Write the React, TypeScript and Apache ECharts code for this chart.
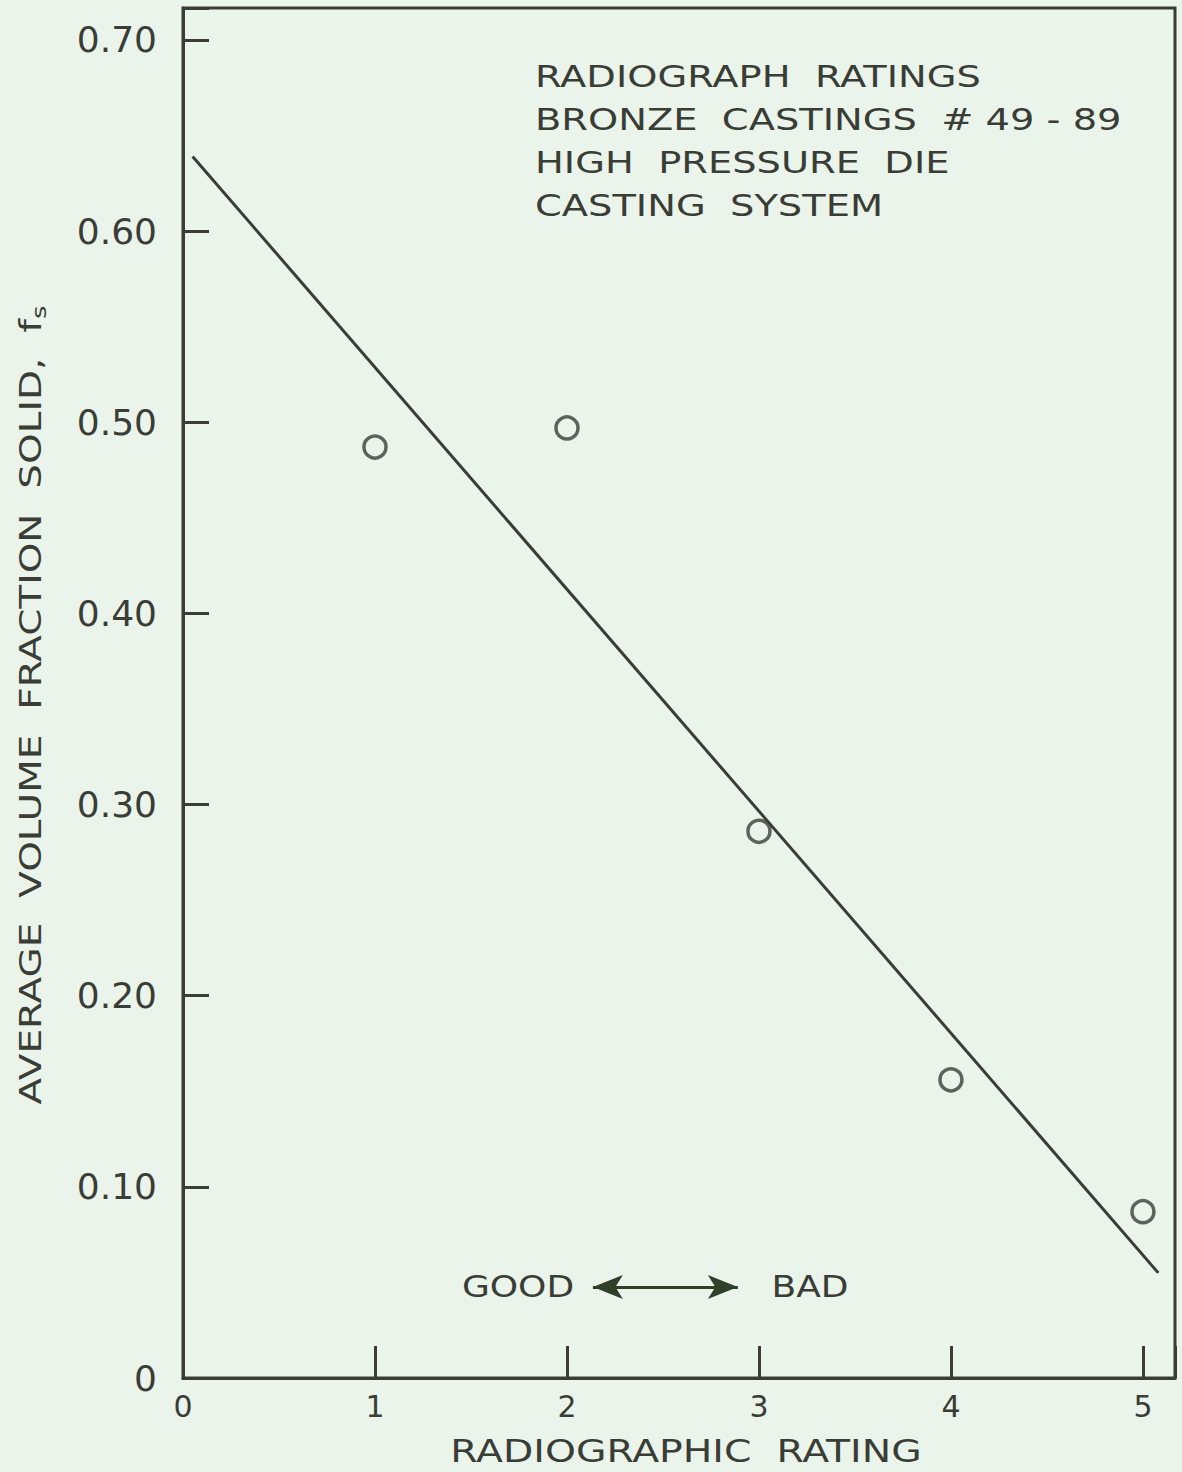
import React, { useEffect, useRef } from "react";
import * as echarts from "echarts";

const ratings = [1, 2, 3, 4, 5];
const fractionSolid = [0.487, 0.497, 0.286, 0.156, 0.087];
const fitLine = [
  [0.05, 0.639],
  [5.08, 0.055],
];
const titleLines = [
  "RADIOGRAPH  RATINGS",
  "BRONZE  CASTINGS  # 49 - 89",
  "HIGH  PRESSURE  DIE",
  "CASTING  SYSTEM",
];
const xName = "RADIOGRAPHIC  RATING";
const yName = "AVERAGE  VOLUME  FRACTION  SOLID,  f";
const arrowFrom = [2.135, 0.0476];
const arrowTo = [2.89, 0.0476];

const INK = "#393d36";
const BG = "#ebf4ea";
const FONT = "DejaVu Sans";

export default function App() {
  const ref = useRef<HTMLDivElement>(null);
  useEffect(() => {
    document.body.style.margin = "0";
    document.body.style.background = BG;
    const chart = echarts.init(ref.current!, null, { renderer: "svg" });
    chart.setOption({
      animation: false,
      backgroundColor: BG,
      grid: {
        left: 183,
        top: 8,
        right: 7,
        bottom: 94,
        show: true,
        borderColor: INK,
        borderWidth: 3,
        backgroundColor: "transparent",
      },
      xAxis: {
        type: "value",
        min: 0,
        max: 5.167,
        interval: 1,
        splitLine: { show: false },
        axisLine: { lineStyle: { color: INK, width: 3 } },
        axisTick: { inside: true, length: 32, lineStyle: { color: INK, width: 3 } },
        axisLabel: {
          color: INK,
          fontFamily: FONT,
          fontSize: 30,
          margin: 13,
          formatter: (v: number) => (Math.abs(v - Math.round(v)) < 1e-6 ? String(Math.round(v)) : ""),
        },
      },
      yAxis: {
        type: "value",
        min: 0,
        max: 0.7167,
        interval: 0.1,
        splitLine: { show: false },
        axisLine: { lineStyle: { color: INK, width: 3 } },
        axisTick: { inside: true, length: 26, lineStyle: { color: INK, width: 3 } },
        axisLabel: {
          color: INK,
          fontFamily: FONT,
          fontSize: 36,
          margin: 26,
          formatter: (v: number) => {
            const r = Math.round(v * 10) / 10;
            if (Math.abs(v - r) > 1e-6) return "";
            return r === 0 ? "0" : r.toFixed(2);
          },
        },
      },
      series: [
        {
          type: "line",
          data: fitLine,
          showSymbol: false,
          symbol: "none",
          lineStyle: { color: INK, width: 3 },
          z: 2,
          markLine: {
            silent: true,
            symbol: ["arrow", "arrow"],
            symbolSize: [18, 30],
            lineStyle: { color: "#2f3f2a", width: 3, type: "solid" },
            label: { show: false },
            data: [[{ coord: arrowFrom }, { coord: arrowTo }]],
          },
        },
        {
          type: "scatter",
          data: ratings.map((r, i) => [r, fractionSolid[i]]),
          symbol: "circle",
          symbolSize: 22,
          itemStyle: { color: BG, borderColor: INK, borderWidth: 3.5 },
          z: 3,
        },
      ],
      graphic: [
        {
          type: "text",
          left: 535,
          top: 55,
          scaleX: 1.28,
          style: {
            text: titleLines.join("\n"),
            font: `30px "${FONT}"`,
            fill: INK,
            lineHeight: 43,
          },
        },
        {
          type: "text",
          x: 518,
          y: 1287,
          scaleX: 1.2,
          style: { text: "GOOD", font: `30px "${FONT}"`, fill: INK, align: "center", verticalAlign: "middle" },
        },
        {
          type: "text",
          x: 810,
          y: 1287,
          scaleX: 1.2,
          style: { text: "BAD", font: `30px "${FONT}"`, fill: INK, align: "center", verticalAlign: "middle" },
        },
        {
          type: "text",
          x: 686,
          y: 1451,
          scaleX: 1.23,
          style: { text: xName, font: `32px "${FONT}"`, fill: INK, align: "center", verticalAlign: "middle" },
        },
        {
          type: "text",
          x: 31,
          y: 705,
          rotation: Math.PI / 2,
          scaleX: 1.3,
          style: {
            text: `{a|${yName}}{s|s}`,
            align: "center",
            verticalAlign: "middle",
            fill: INK,
            rich: {
              a: { font: `30px "${FONT}"`, fill: INK },
              s: { font: `20px "${FONT}"`, fill: INK, padding: [16, 0, 0, 0] },
            },
          },
        },
      ],
    });
    return () => chart.dispose();
  }, []);
  return <div ref={ref} style={{ position: "fixed", left: 0, top: 0, width: 1182, height: 1472 }} />;
}
